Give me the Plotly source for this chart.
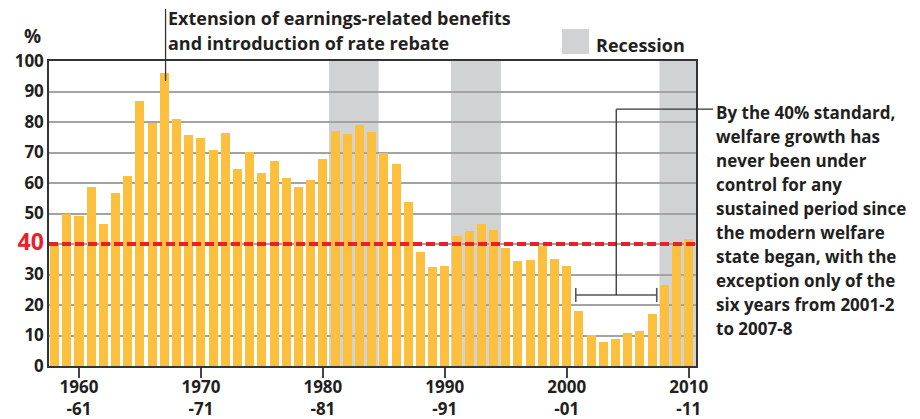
import plotly.graph_objects as go

# ---- data ----
years = list(range(1958, 2011))
growth = [39.6, 50.0, 49.2, 58.7, 46.6, 56.7, 62.3, 86.9, 79.7, 96.1,
          81.0, 75.7, 74.8, 70.8, 76.4, 64.6, 70.2, 63.3, 67.2, 61.6,
          58.7, 61.0, 67.9, 77.0, 76.0, 79.0, 76.7, 69.7, 66.2, 53.8,
          37.4, 32.5, 32.8, 42.6, 44.3, 46.7, 44.7, 38.7, 34.4, 34.8,
          39.3, 35.1, 32.8, 18.0, 10.2, 7.9, 8.9, 10.8, 11.5, 17.0,
          26.5, 39.8, 41.6]
tick_years = [1960, 1970, 1980, 1990, 2000, 2010]
tick_labels = ["1960<br>-61", "1970<br>-71", "1980<br>-81", "1990<br>-91", "2000<br>-01", "2010<br>-11"]
recession_start = [1980.5, 1990.5, 2007.6]
recession_end = [1984.57, 1994.6, 2010.6]
standard = 40
bracket_years = [2000.74, 2007.38]
right_note = ["By the 40% standard,", "welfare growth has", "never been under",
              "control for any", "sustained period since", "the modern welfare",
              "state began, with the", "exception only of the",
              "six years from 2001-2", "to 2007-8"]
top_note = ["Extension of earnings-related benefits", "and introduction of rate rebate"]

# ---- style ----
FONT = "Open Sans"
TXT = "#231f20"
BAR = "#FDC03E"
GREY = "#D1D2D4"
RED = "#E8202A"
XR = [1957.54, 2010.6]
W, H = 920, 419
ML, MR, MT, MB = 49, 224, 61, 53
PW = W - ML - MR
PH = H - MT - MB
PL = ML            # page x of plot left
PB = MT + PH       # page y of plot bottom

def px_x(px):
    return (px - PL) / PW

def px_y(py):
    return (PB - py) / PH

def yr_paper(y):
    return (y - XR[0]) / (XR[1] - XR[0])

fig = go.Figure()
fig.add_trace(go.Bar(x=years, y=growth, width=0.74, marker=dict(color=BAR, line=dict(width=0)),
                     hoverinfo="x+y"))

shapes = []
for s, e in zip(recession_start, recession_end):
    shapes.append(dict(type="rect", xref="x", yref="y", x0=s, x1=e, y0=0, y1=100,
                       fillcolor=GREY, line=dict(width=0), layer="below"))
# 40% standard
shapes.append(dict(type="line", xref="paper", yref="y", x0=0, x1=1, y0=standard, y1=standard,
                   line=dict(color=RED, width=4, dash="9px,4px"), layer="above"))
# bracket
by = 23.3
shapes.append(dict(type="line", xref="x", yref="y", x0=bracket_years[0], x1=bracket_years[1], y0=by, y1=by,
                   line=dict(color="#555555", width=1.6)))
for bx in bracket_years:
    shapes.append(dict(type="line", xref="x", yref="y", x0=bx, x1=bx, y0=by - 2.3, y1=by + 2.3,
                       line=dict(color="#555555", width=1.6)))
mid = sum(bracket_years) / 2
shapes.append(dict(type="line", xref="x", yref="y", x0=mid, x1=mid, y0=by, y1=84.2,
                   line=dict(color="#333333", width=1.3)))
shapes.append(dict(type="line", xref="paper", yref="y", x0=yr_paper(mid), x1=px_x(713), y0=84.2, y1=84.2,
                   line=dict(color="#333333", width=1.3)))
# top leader
shapes.append(dict(type="line", xref="paper", yref="paper", x0=yr_paper(1967.1), x1=yr_paper(1967.1),
                   y0=px_y(9), y1=px_y(81), line=dict(color="#333333", width=1.3)))
# legend box
shapes.append(dict(type="rect", xref="paper", yref="paper", x0=px_x(562), x1=px_x(589),
                   y0=px_y(54), y1=px_y(29), fillcolor=GREY, line=dict(width=0)))

annotations = []
f = dict(family=FONT, size=17, color=TXT, weight=700)
f18 = dict(family=FONT, size=18, color=TXT, weight=700)
for i, line in enumerate(right_note):
    annotations.append(dict(text=line, xref="paper", yref="paper", x=px_x(714), y=px_y(112.5 + 24 * i),
                            xanchor="left", yanchor="middle", showarrow=False, font=f))
for i, line in enumerate(top_note):
    annotations.append(dict(text=line, xref="paper", yref="paper", x=px_x(166), y=px_y(18 + 24.5 * i),
                            xanchor="left", yanchor="middle", showarrow=False, font=f18))
annotations.append(dict(text="Recession", xref="paper", yref="paper", x=px_x(594), y=px_y(45),
                        xanchor="left", yanchor="middle", showarrow=False, font=f18))
annotations.append(dict(text="%", xref="paper", yref="paper", x=px_x(32), y=px_y(36),
                        xanchor="center", yanchor="middle", showarrow=False,
                        font=dict(family=FONT, size=19, color=TXT, weight=700)))

ytv = list(range(0, 101, 10))
ytt = [f"<span style='color:{RED};font-size:23px'>40</span>" if v == 40 else str(v) for v in ytv]

fig.update_layout(
    width=W, height=H,
    margin=dict(l=ML, r=MR, t=MT, b=MB, autoexpand=False),
    plot_bgcolor="white", paper_bgcolor="white",
    showlegend=False, bargap=0,
    font=dict(family=FONT, size=17, color=TXT, weight=700),
    shapes=shapes, annotations=annotations,
    xaxis=dict(range=XR, tickvals=tick_years, ticktext=tick_labels, ticks="outside", ticklen=10,
               tickwidth=1.5, tickcolor="#444444", showgrid=False, zeroline=False, automargin=False,
               showline=True, linecolor="#333333", linewidth=1.5, mirror=True,
               ticklabelstandoff=-5,
               tickfont=dict(family=FONT, size=17, color=TXT, weight=700)),
    yaxis=dict(range=[0, 100], tickvals=ytv, ticktext=ytt, ticks="", showgrid=True,
               gridcolor="#A3A3A3", gridwidth=1.5, zeroline=False, automargin=False,
               showline=True, linecolor="#333333", linewidth=1.5, mirror=True,
               tickfont=dict(family=FONT, size=17, color=TXT, weight=700)),
)

fig.write_html("out.html", config={"displayModeBar": False},
               post_script="document.body.style.margin='0';")
